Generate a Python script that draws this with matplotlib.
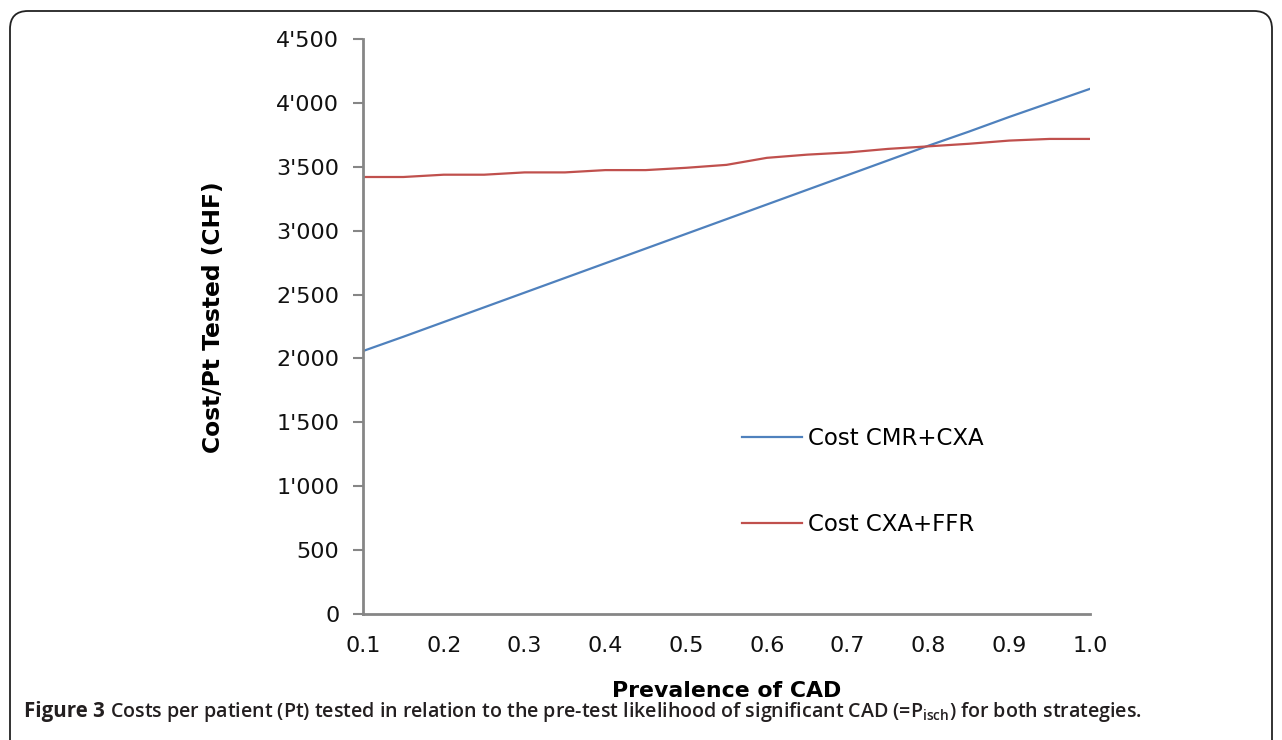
import matplotlib.pyplot as plt
from matplotlib.patches import FancyBboxPatch
from matplotlib.ticker import FuncFormatter, MultipleLocator

# prevalence of CAD and cost per patient tested (CHF)
prevalence = [0.10, 0.15, 0.20, 0.25, 0.30, 0.35, 0.40, 0.45, 0.50, 0.55,
              0.60, 0.65, 0.70, 0.75, 0.80, 0.85, 0.90, 0.95, 1.00]
cost_cmr_cxa = [2058, 2170, 2285, 2400, 2515, 2630, 2745, 2860, 2975, 3090,
                3205, 3320, 3435, 3550, 3665, 3775, 3890, 4000, 4110]
cost_cxa_ffr = [3420, 3420, 3438, 3438, 3456, 3456, 3474, 3474, 3492, 3515,
                3570, 3595, 3612, 3640, 3660, 3680, 3705, 3718, 3718]
labels = ["Cost CMR+CXA", "Cost CXA+FFR"]

font = "DejaVu Sans"
grey = "#868686"

fig = plt.figure(figsize=(12.82, 7.4), dpi=100)
ax = fig.add_axes([363 / 1282, 126 / 740, 727 / 1282, 575 / 740])

ax.plot(prevalence, cost_cmr_cxa, color="#4F81BD", lw=1.6, label=labels[0])
ax.plot(prevalence, cost_cxa_ffr, color="#C0504D", lw=1.6, label=labels[1])

ax.set_xlim(0.1, 1.0)
ax.set_ylim(0, 4500)
ax.xaxis.set_major_locator(MultipleLocator(0.1))
ax.yaxis.set_major_locator(MultipleLocator(500))
ax.xaxis.set_major_formatter(FuncFormatter(lambda v, p: f"{v:.1f}"))
ax.yaxis.set_major_formatter(FuncFormatter(lambda v, p: f"{int(round(v)):,}".replace(",", "'")))

for s in ["top", "right"]:
    ax.spines[s].set_visible(False)
for s in ["left", "bottom"]:
    ax.spines[s].set_color(grey)
    ax.spines[s].set_linewidth(2)
ax.tick_params(axis="y", length=7, width=1.5, color=grey, pad=10)
ax.tick_params(axis="x", length=0, pad=16)
for t in ax.get_xticklabels() + ax.get_yticklabels():
    t.set_fontfamily(font)
    t.set_fontsize(16)
    t.set_color("#111111")

ax.set_ylabel("Cost/Pt Tested (CHF)", fontfamily=font, fontweight="bold",
              fontsize=16.8)
ax.yaxis.set_label_coords(-0.19, 0.517)
ax.set_xlabel("Prevalence of CAD", fontfamily=font, fontweight="bold",
              fontsize=15.8, labelpad=18)

ax.legend(loc="upper left", bbox_to_anchor=(742 / 1282, 1 - 427 / 740),
          bbox_transform=fig.transFigure, frameon=False, borderpad=0,
          borderaxespad=0, handlelength=2.6, handletextpad=0.3,
          labelspacing=2.75, prop={"family": font, "size": 16.5})

# rounded frame around the figure panel
frame = FancyBboxPatch((0.10, -0.5), 12.62, 7.79,
                       boxstyle="round,pad=0,rounding_size=0.18",
                       transform=fig.dpi_scale_trans, fill=False,
                       edgecolor="#222222", lw=1.3)
fig.patches.append(frame)

# caption: bold figure number followed by the description
cap = fig.text(24 / 1282, 1 - 717 / 740, "Figure 3", fontfamily="Open Sans",
               fontweight="bold", fontsize=14.8, va="baseline", color="#231f20")
fig.canvas.draw()
fig.text(cap.get_window_extent().x1 / fig.bbox.width, 1 - 717 / 740,
         " Costs per patient (Pt) tested in relation to the pre-test likelihood "
         r"of significant CAD (=P$_{\mathregular{isch}}$) for both strategies.",
         fontfamily="Open Sans", fontweight="semibold", fontsize=14.1,
         va="baseline", ha="left", color="#231f20")

fig.savefig("out.png", dpi=100)
